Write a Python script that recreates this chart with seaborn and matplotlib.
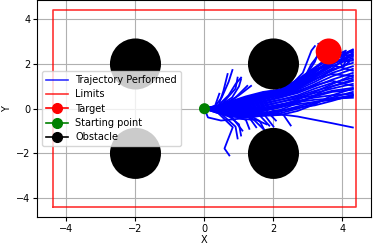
import numpy as np
import pandas as pd
import matplotlib
matplotlib.use("Agg")
import matplotlib.pyplot as plt
import seaborn as sns
from matplotlib.lines import Line2D

# ---- data -------------------------------------------------------------
limits_x = [-4.4, 4.4, 4.4, -4.4, -4.4]
limits_y = [-4.4, -4.4, 4.4, 4.4, -4.4]
obstacle_x = [-2, 2, -2, 2]
obstacle_y = [2, 2, -2, -2]
target_xy = (3.6, 2.56)
start_xy = (0.0, 0.0)

grid_x = [0, 0.3, 0.7, 1.2, 1.7, 2.2, 2.7, 3.2, 3.7, 4.3]
# main bundle trajectories (y at grid_x)
bundle_y = [
    [0, 0.05, 0.20, 0.45, 0.65, 0.80, 1.10, 1.60, 2.20, 2.65],
    [0, 0.00, 0.10, 0.30, 0.50, 0.70, 1.00, 1.50, 2.00, 2.45],
    [0, 0.03, 0.15, 0.35, 0.55, 0.75, 1.05, 1.45, 1.90, 2.27],
    [0, -0.02, 0.05, 0.20, 0.40, 0.60, 0.90, 1.30, 1.75, 2.05],
    [0, 0.02, 0.10, 0.25, 0.45, 0.60, 0.85, 1.20, 1.60, 1.90],
    [0, -0.05, -0.05, 0.10, 0.30, 0.50, 0.75, 1.10, 1.45, 1.78],
    [0, 0.00, 0.00, 0.15, 0.35, 0.50, 0.70, 1.00, 1.30, 1.60],
    [0, -0.05, -0.10, 0.00, 0.20, 0.40, 0.60, 0.90, 1.15, 1.38],
    [0, -0.03, -0.05, 0.05, 0.25, 0.40, 0.55, 0.80, 1.00, 1.24],
    [0, -0.08, -0.15, -0.05, 0.15, 0.30, 0.50, 0.70, 0.90, 1.11],
    [0, -0.05, -0.10, -0.10, 0.10, 0.30, 0.45, 0.60, 0.80, 0.93],
    [0, -0.10, -0.20, -0.15, 0.05, 0.20, 0.35, 0.50, 0.60, 0.67],
    [0, -0.08, -0.25, -0.25, -0.05, 0.15, 0.30, 0.40, 0.45, 0.49],
    [0, 0.05, 0.25, 0.50, 0.70, 0.82, 1.20, 1.70, 2.00, 2.35],
    [0, 0.08, 0.30, 0.55, 0.75, 0.85, 1.30, 1.80, 2.30, 2.55],
    [0, 0.06, 0.28, 0.48, 0.72, 0.86, 1.25, 1.75, 2.10, 2.15],
    [0, 0.00, 0.12, 0.38, 0.60, 0.78, 1.15, 1.55, 1.95, 1.70],
    [0, -0.04, 0.02, 0.22, 0.45, 0.65, 0.95, 1.35, 1.55, 1.45],
    [0, -0.06, -0.08, 0.12, 0.32, 0.55, 0.80, 1.05, 1.25, 1.02],
    [0, -0.02, 0.08, 0.28, 0.52, 0.70, 1.00, 1.40, 1.80, 2.50],
    [0, -0.12, -0.30, -0.30, -0.10, 0.10, 0.20, 0.30, 0.40, 0.55],
    [0, -0.10, -0.30, -0.35, -0.25, -0.10, 0.10, 0.30, 0.45, 0.60],
    [0, -0.12, -0.35, -0.40, -0.30, -0.20, 0.00, 0.25, 0.50, 0.75],
    [0, -0.08, -0.28, -0.38, -0.32, -0.28, -0.10, 0.20, 0.60, 0.90],
    [0, -0.06, -0.20, -0.28, -0.20, -0.05, 0.25, 0.60, 1.00, 1.30],
    [0, 0.02, 0.18, 0.40, 0.62, 0.84, 1.30, 1.85, 2.40, 2.40],
    [0, -0.03, -0.12, -0.15, 0.00, 0.15, 0.40, 0.75, 1.10, 1.50],
    [0, 0.04, 0.22, 0.42, 0.60, 0.78, 1.15, 1.65, 2.25, 2.60],
    [0, -0.07, -0.18, -0.22, -0.10, 0.05, 0.30, 0.55, 0.75, 0.85],
    [0, -0.09, -0.22, -0.32, -0.22, -0.12, 0.05, 0.15, 0.35, 0.62],
    [0, -0.05, -0.15, -0.20, -0.20, -0.25, -0.35, -0.50, -0.65, -0.84],
]

# trajectories reaching the target, curling, or stopping early
other_x = [
    [0, 0.5, 1.0, 1.5, 2.0, 2.5, 2.9, 3.1, 3.3, 3.45],
    [0, 0.5, 1.0, 1.5, 2.0, 2.5, 2.85, 3.0, 3.1, 3.2],
    [0, 0.5, 1.0, 1.5, 2.0, 2.5, 2.95, 3.2, 3.35, 3.3],
    [0, 0.5, 1.0, 1.5, 2.0, 2.6, 3.1, 3.6, 3.9, 4.2, 4.0, 4.15],
    [0, 0.5, 1.0, 1.5, 2.0, 2.6, 3.2, 3.7, 4.0, 3.9, 4.1, 4.3],
    [0, 0.5, 1.0, 1.5, 2.0, 2.6, 3.2, 3.6, 3.9, 4.1, 3.95, 4.2],
    [0, 0.3, 0.5, 0.7, 0.81],
    [0, 0.4, 0.7, 0.9, 1.06],
    [0, 0.4, 0.8, 1.0, 1.06],
    [0, 0.5, 0.9, 1.24],
    [0, 0.4, 0.55, 0.67],
    [0, 0.3, 0.43],
    [0, 0.6, 1.0, 1.35],
    [0, 0.5, 0.9, 0.96],
    [0, 0.4, 0.82, 0.67, 0.58, 0.72],
    [0, 0.5, 0.9, 0.96],
    [0, 0.6, 1.0, 1.06],
    [0, 0.7, 1.1],
    [0, 0.8, 1.3, 1.5],
    [0, 1.0, 1.6, 1.88],
    [0, 1.0, 1.8, 2.07],
    [0, 0.7, 1.2, 1.3],
    [0, 0.9, 1.4, 1.7],
    [0, 1.1, 1.7, 2.0],
    [0, 0.1, 0.48, 1.0, 1.5, 1.8],
    [0, 0.9, 1.3, 1.6, 1.75],
    [0, 1.2, 1.9, 2.3, 2.5],
]
other_y = [
    [0, 0.10, 0.30, 0.50, 0.70, 0.95, 1.40, 2.00, 2.40, 2.60],
    [0, 0.15, 0.35, 0.55, 0.75, 1.05, 1.60, 2.20, 2.60, 2.80],
    [0, 0.12, 0.32, 0.52, 0.72, 1.00, 1.50, 2.10, 2.70, 2.90],
    [0, 0.10, 0.30, 0.50, 0.70, 1.00, 1.40, 1.90, 2.20, 2.10, 1.85, 2.30],
    [0, 0.08, 0.28, 0.48, 0.66, 0.90, 1.30, 1.70, 1.90, 2.15, 2.40, 2.20],
    [0, 0.12, 0.30, 0.50, 0.70, 0.95, 1.45, 2.00, 2.45, 2.60, 2.30, 2.55],
    [0, 0.10, 0.50, 1.20, 1.73],
    [0, 0.15, 0.60, 1.10, 1.39],
    [0, 0.10, 0.50, 1.00, 1.32],
    [0, 0.15, 0.50, 1.02],
    [0, 0.10, 0.80, 1.55],
    [0, 0.10, 0.67],
    [0, 0.20, 0.60, 1.02],
    [0, 0.20, 0.90, 1.39],
    [0, -0.20, -0.83, -1.42, -1.78, -2.09],
    [0, -0.25, -0.80, -1.33],
    [0, -0.20, -0.70, -1.20],
    [0, -0.20, -0.98],
    [0, -0.15, -0.40, -0.83],
    [0, -0.10, -0.30, -0.76],
    [0, 0.00, -0.10, -0.53],
    [0, -0.25, -0.50, -0.90],
    [0, -0.20, -0.45, -0.90],
    [0, -0.05, -0.20, -0.80],
    [0, -0.39, -0.53, -0.45, -0.50, -0.70],
    [0, -0.15, -0.30, -0.55, -1.00],
    [0, 0.05, 0.00, -0.30, -0.75],
]

# ---- build long table -------------------------------------------------
rows = []
run = 0
for ys in bundle_y:
    for x, y in zip(grid_x, ys):
        rows.append((run, x, y))
    run += 1
for xs, ys in zip(other_x, other_y):
    for x, y in zip(xs, ys):
        rows.append((run, x, y))
    run += 1
df = pd.DataFrame(rows, columns=["run", "x", "y"])

# ---- figure -----------------------------------------------------------
FS = 7.0
fig = plt.figure(figsize=(3.73, 2.46), dpi=100)
ax = fig.add_axes([0.1005, 0.1183, 0.8954, 0.8797])
ax.set_axisbelow(True)
ax.grid(True, color="#b0b0b0", linewidth=0.8)

sns.lineplot(data=df, x="x", y="y", units="run", estimator=None, sort=False,
             color="blue", linewidth=1.3, ax=ax, legend=False, zorder=2)
ax.plot(limits_x, limits_y, color="red", alpha=0.8, linewidth=1.2, zorder=3)
sns.scatterplot(x=obstacle_x, y=obstacle_y, s=1350, color="black",
                edgecolor="none", ax=ax, zorder=4, legend=False)
sns.scatterplot(x=[target_xy[0]], y=[target_xy[1]], s=350, color="red",
                edgecolor="none", ax=ax, zorder=4, legend=False)
sns.scatterplot(x=[start_xy[0]], y=[start_xy[1]], s=63, color="green",
                edgecolor="none", ax=ax, zorder=5, legend=False)

ax.set_xlim(-4.84, 4.84)
ax.set_ylim(-4.84, 4.84)
ax.set_xticks([-4, -2, 0, 2, 4])
ax.set_yticks([-4, -2, 0, 2, 4])
ax.tick_params(labelsize=FS, length=3, width=0.8, pad=2)
ax.set_xlabel("X", fontsize=FS, labelpad=1)
ax.set_ylabel("Y", fontsize=FS, labelpad=3)

handles = [
    Line2D([], [], color="blue", lw=1.2, alpha=0.8),
    Line2D([], [], color="red", lw=1.2, alpha=0.8),
    Line2D([], [], color="red", lw=1.2, marker="o", markersize=7),
    Line2D([], [], color="green", lw=1.2, marker="o", markersize=7),
    Line2D([], [], color="black", lw=1.2, marker="o", markersize=7),
]
labels = ["Trajectory Performed", "Limits", "Target", "Starting point", "Obstacle"]
ax.legend(handles, labels, loc="center left", fontsize=FS, framealpha=0.8,
          handlelength=2.2, borderpad=0.4, labelspacing=0.45,
          bbox_to_anchor=(0.0, 0.5))

fig.savefig("out.png", dpi=100)
